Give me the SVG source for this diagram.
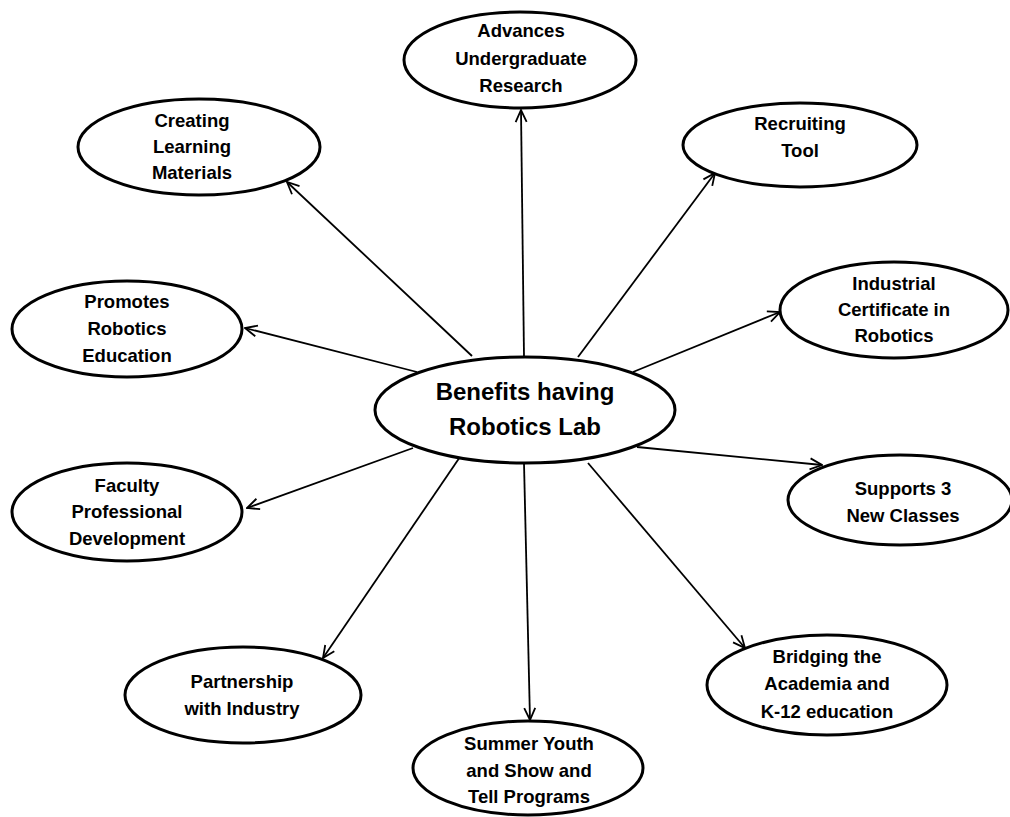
<svg xmlns="http://www.w3.org/2000/svg" width="1010" height="817" viewBox="0 0 1010 817">
<style>
.node ellipse{fill:#fff;stroke:#000;stroke-width:3}
.node text{font-family:"Liberation Sans",Arial,sans-serif;font-weight:bold;font-size:18.5px;text-anchor:middle;fill:#000}
#center text{font-size:24px}
.conn line{stroke:#000;stroke-width:1.8;marker-end:url(#arr)}
</style>
<defs>
<marker id="arr" viewBox="0 0 14 14" refX="13" refY="7" markerWidth="14" markerHeight="14" markerUnits="userSpaceOnUse" orient="auto">
<path d="M1,1.5 L13,7 L1,12.5" fill="none" stroke="#000" stroke-width="1.8"/>
</marker>
</defs>
<rect width="1010" height="817" fill="#fff"/>
<g class="conn" id="connectors">
<line x1="524" y1="357" x2="521" y2="110"/>
<line x1="472" y1="356" x2="287" y2="182"/>
<line x1="578" y1="357" x2="715" y2="173"/>
<line x1="417" y1="372" x2="245" y2="328"/>
<line x1="633" y1="372" x2="780" y2="312"/>
<line x1="413" y1="448" x2="247" y2="508"/>
<line x1="462" y1="454" x2="323" y2="658"/>
<line x1="524" y1="463" x2="530" y2="720"/>
<line x1="588" y1="463" x2="745" y2="648"/>
<line x1="637" y1="447" x2="822" y2="465"/>
</g>
<g class="node" id="center">
<ellipse cx="525" cy="410" rx="150" ry="53"/>
<text x="525" y="400">Benefits having</text>
<text x="525" y="435">Robotics Lab</text>
</g>
<g class="node" id="advances">
<ellipse cx="520" cy="60" rx="116" ry="48"/>
<text x="521" y="37">Advances</text>
<text x="521" y="65">Undergraduate</text>
<text x="521" y="92">Research</text>
</g>
<g class="node" id="creating">
<ellipse cx="199" cy="147" rx="121" ry="48"/>
<text x="192" y="127">Creating</text>
<text x="192" y="153">Learning</text>
<text x="192" y="179">Materials</text>
</g>
<g class="node" id="recruiting">
<ellipse cx="800" cy="145" rx="117" ry="42"/>
<text x="800" y="130">Recruiting</text>
<text x="800" y="157">Tool</text>
</g>
<g class="node" id="promotes">
<ellipse cx="127" cy="329" rx="115" ry="48"/>
<text x="127" y="308">Promotes</text>
<text x="127" y="335">Robotics</text>
<text x="127" y="362">Education</text>
</g>
<g class="node" id="industrial">
<ellipse cx="894" cy="310" rx="114" ry="48"/>
<text x="894" y="290">Industrial</text>
<text x="894" y="316">Certificate in</text>
<text x="894" y="342">Robotics</text>
</g>
<g class="node" id="faculty">
<ellipse cx="127" cy="512" rx="115" ry="49"/>
<text x="127" y="492">Faculty</text>
<text x="127" y="518">Professional</text>
<text x="127" y="545">Development</text>
</g>
<g class="node" id="supports">
<ellipse cx="900" cy="500" rx="112" ry="45"/>
<text x="903" y="495">Supports 3</text>
<text x="903" y="522">New Classes</text>
</g>
<g class="node" id="partnership">
<ellipse cx="243" cy="695" rx="118" ry="48"/>
<text x="242" y="688">Partnership</text>
<text x="242" y="715">with Industry</text>
</g>
<g class="node" id="bridging">
<ellipse cx="827" cy="685" rx="120" ry="50"/>
<text x="827" y="663">Bridging the</text>
<text x="827" y="690">Academia and</text>
<text x="827" y="718">K-12 education</text>
</g>
<g class="node" id="summer">
<ellipse cx="528" cy="768" rx="115" ry="47"/>
<text x="529" y="750">Summer Youth</text>
<text x="529" y="777">and Show and</text>
<text x="529" y="803">Tell Programs</text>
</g>
</svg>
